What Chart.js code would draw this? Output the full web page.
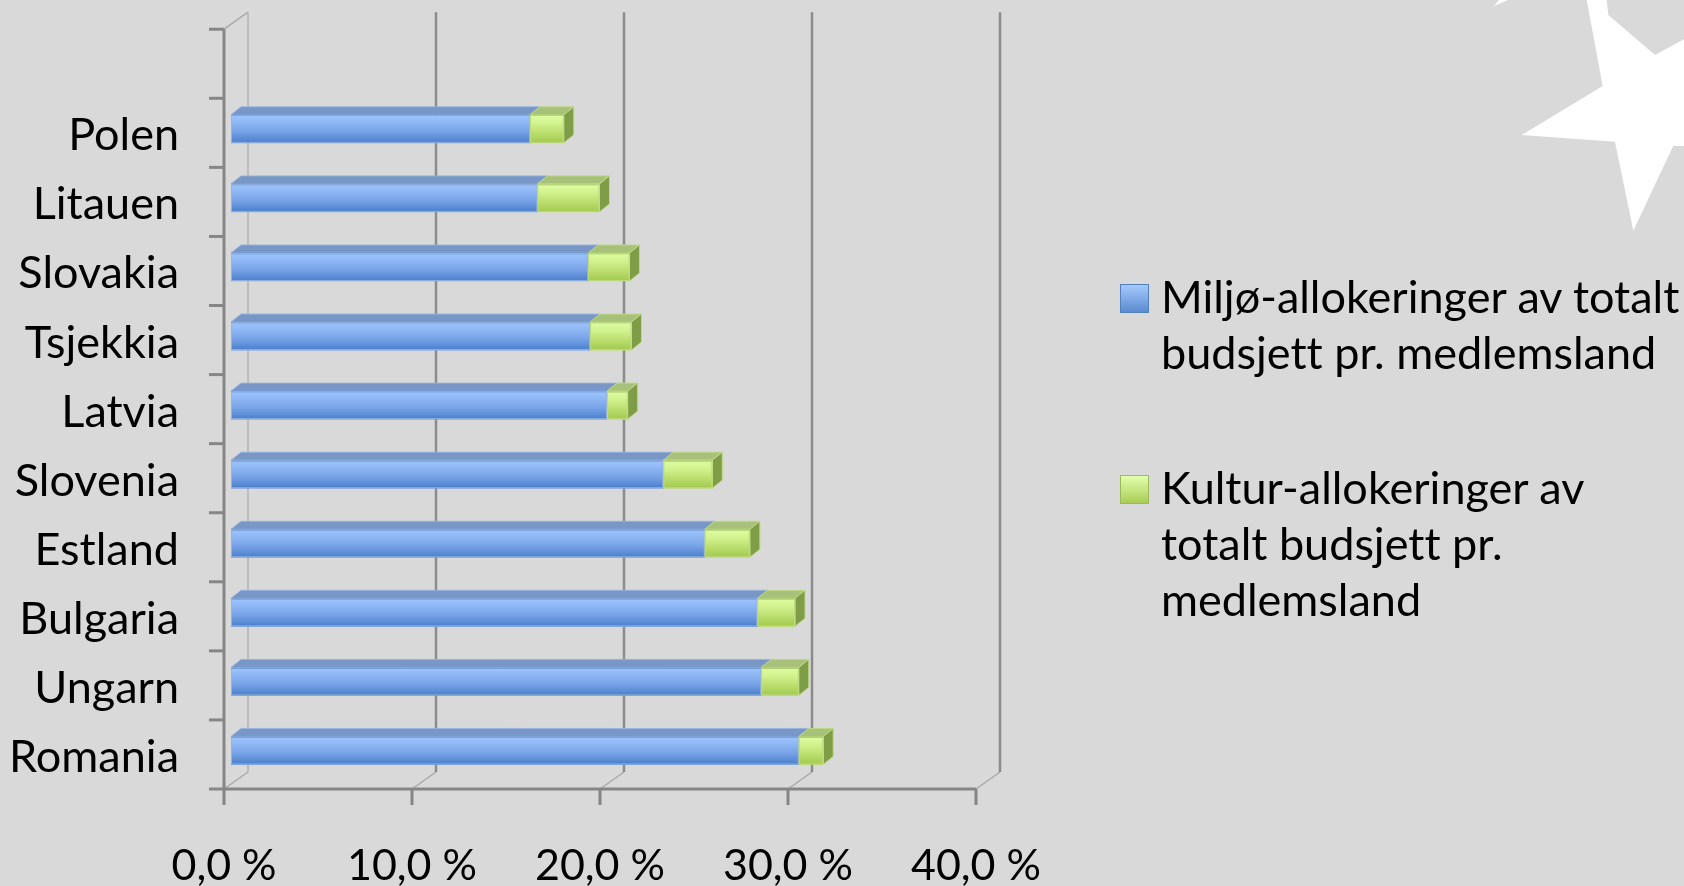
<!DOCTYPE html>
<html><head><meta charset="utf-8">
<script src="https://cdn.jsdelivr.net/npm/chart.js@4.4.1/dist/chart.umd.min.js"></script>
<style>
html,body{margin:0;padding:0;background:#d9d9d9;width:1684px;height:886px;overflow:hidden;}
#wrap{position:relative;width:1684px;height:886px;}
canvas{position:absolute;left:0;top:0;}
#legend{position:absolute;left:1120px;top:0;font-family:Lato,sans-serif;font-size:45px;line-height:56px;color:#000;font-variant-ligatures:none;font-feature-settings:"liga" 0;}
.item{position:absolute;left:0;white-space:nowrap;}
.sw{position:absolute;left:0;width:27px;height:27px;}
.txt{position:absolute;left:41px;top:0;}
</style></head><body>
<div id="wrap"><canvas id="c" width="1684" height="886"></canvas><div id="legend"></div></div>
<script>
// ---- data ----
const categories = ['Polen','Litauen','Slovakia','Tsjekkia','Latvia','Slovenia','Estland','Bulgaria','Ungarn','Romania'];
const miljo  = [15.9, 16.3, 19.0, 19.1, 20.0, 23.0, 25.2, 28.0, 28.2, 30.2];
const kultur = [1.8, 3.3, 2.2, 2.2, 1.1, 2.6, 2.4, 2.0, 2.0, 1.3];
const seriesNames = [
  ['Miljø-allokeringer av totalt','budsjett pr. medlemsland'],
  ['Kultur-allokeringer av','totalt budsjett pr.','medlemsland']
];
const xTickLabels = ['0,0 %','10,0 %','20,0 %','30,0 %','40,0 %'];

// ---- style ----
const FONT = 'Lato';
const WALL_DX = 24, WALL_DY = -17;
const BAR_SHIFT_X = 7, BAR_SHIFT_Y = -4;
const BAR_DX = 10, BAR_DY = 8;
const styles = [
  {front:[[0,'#9ec5ff'],[0.2,'#93bbf7'],[0.6,'#77a2e6'],[1,'#4a7fcb']], top:'#7896c6', edge:'#5b86c4', border:'rgba(150,180,222,0.9)', side:'#4a72b0',
   swatch:'linear-gradient(to bottom,#a6c9fd,#5b8bd0)', swBorder:'#4f81bd'},
  {front:[[0,'#dffea3'],[0.3,'#d2f28e'],[1,'#a3c94e']], top:'#a8c17a', edge:'#97b65c', border:'#bdd982', side:'#7f9d46',
   swatch:'linear-gradient(to bottom,#e2ffad,#a8cd55)', swBorder:'#9bbb59'}
];

function line(ctx,x1,y1,x2,y2){ctx.beginPath();ctx.moveTo(x1,y1);ctx.lineTo(x2,y2);ctx.stroke();}

const deco = {
  id:'deco',
  beforeDraw(chart){
    const ctx = chart.ctx;
    ctx.save();
    ctx.fillStyle = '#ffffff';
    ctx.beginPath();
    [[1586.7,0],[1602.7,86],[1521.7,135],[1615,141.7],[1633.3,230.7],[1673.3,145.7],[1684,146],[1684,39.3],[1655,55],[1608.3,15],[1606.7,0]]
      .forEach((p,i)=> i?ctx.lineTo(p[0],p[1]):ctx.moveTo(p[0],p[1]));
    ctx.closePath(); ctx.fill();
    ctx.beginPath(); ctx.moveTo(1494,6); ctx.lineTo(1508,0); ctx.lineTo(1499,0); ctx.closePath(); ctx.fill();
    ctx.restore();
  },
  beforeDatasetsDraw(chart){
    const {ctx, chartArea:a, scales:{x,y}} = chart;
    const n = categories.length;
    const band = (a.bottom - a.top)/n;
    const topF = a.top - band;
    const vals = x.ticks.map(t=>t.value);
    ctx.save();
    ctx.lineCap = 'butt';
    // floor / wall diagonals
    ctx.strokeStyle = '#a9a9a9'; ctx.lineWidth = 1.5;
    vals.forEach(v=>{const px=x.getPixelForValue(v); line(ctx,px,a.bottom,px+WALL_DX,a.bottom+WALL_DY);});
    line(ctx,a.left,topF,a.left+WALL_DX,topF+WALL_DY);
    // back gridlines
    vals.forEach((v,i)=>{
      const px = x.getPixelForValue(v)+WALL_DX;
      ctx.strokeStyle = i===0 ? '#b2b2b2' : '#8c8c8c';
      ctx.lineWidth = i===0 ? 1.5 : 2.5;
      line(ctx,px,topF+WALL_DY,px,a.bottom+WALL_DY);
    });
    // front axes
    ctx.strokeStyle = '#868686'; ctx.lineWidth = 3;
    line(ctx,a.left,topF,a.left,a.bottom+1.5);
    for(let k=0;k<=n+1;k++){const yy=topF+k*band; line(ctx,a.left-15,yy,a.left,yy);}
    line(ctx,a.left-1.5,a.bottom,a.right,a.bottom);
    vals.forEach(v=>{const px=x.getPixelForValue(v); line(ctx,px,a.bottom,px,a.bottom+16);});
    ctx.restore();

    // bars: 3d faces behind front faces
    ctx.save();
    ctx.translate(BAR_SHIFT_X, BAR_SHIFT_Y);
    const last = chart.data.datasets.length-1;
    chart.data.datasets.forEach((ds,i)=>{
      const st = styles[i];
      chart.getDatasetMeta(i).data.forEach(el=>{
        const p = el.getProps(['x','y','base','height'], true);
        const l = Math.min(p.x,p.base), r = Math.max(p.x,p.base), t = p.y-p.height/2, b = p.y+p.height/2;
        ctx.fillStyle = st.top;
        ctx.beginPath(); ctx.moveTo(l,t); ctx.lineTo(r,t); ctx.lineTo(r+BAR_DX,t-BAR_DY); ctx.lineTo(l+BAR_DX,t-BAR_DY); ctx.closePath(); ctx.fill();
        ctx.strokeStyle = st.border; ctx.lineWidth = 1; ctx.stroke();
        if(i===last){
          ctx.fillStyle = st.side;
          ctx.beginPath(); ctx.moveTo(r,t); ctx.lineTo(r+BAR_DX,t-BAR_DY); ctx.lineTo(r+BAR_DX,b-BAR_DY); ctx.lineTo(r,b); ctx.closePath(); ctx.fill();
          ctx.strokeStyle = st.border; ctx.stroke();
        }
      });
    });
  },
  afterDatasetsDraw(chart){
    const ctx = chart.ctx;
    chart.data.datasets.forEach((ds,i)=>{
      const st = styles[i];
      chart.getDatasetMeta(i).data.forEach(el=>{
        const p = el.getProps(['x','y','base','height'], true);
        const l = Math.min(p.x,p.base), r = Math.max(p.x,p.base), t = p.y-p.height/2, b = p.y+p.height/2;
        const g = ctx.createLinearGradient(0,t,0,b);
        st.front.forEach(s=>g.addColorStop(s[0],s[1]));
        ctx.fillStyle = g; ctx.fillRect(l,t,r-l,b-t);
        ctx.strokeStyle = st.edge; ctx.lineWidth = 1.5; line(ctx,l,t+0.5,r,t+0.5);
        ctx.strokeStyle = st.border; ctx.lineWidth = 1; ctx.strokeRect(l+0.5,t+0.5,r-l-1,b-t-1);
      });
    });
    ctx.restore();
  }
};

const chart = new Chart(document.getElementById('c'), {
  type:'bar',
  data:{
    labels: categories,
    datasets:[
      {label: seriesNames[0].join(' '), data: miljo, backgroundColor:'#77a2e6', barThickness:28},
      {label: seriesNames[1].join(' '), data: kultur, backgroundColor:'#c4e47a', barThickness:28}
    ]
  },
  options:{
    indexAxis:'y',
    responsive:false,
    animation:false,
    devicePixelRatio:1,
    layout:{padding:{top:98.3, right:708, bottom:0, left:0}},
    plugins:{legend:{display:false}, tooltip:{enabled:false}},
    scales:{
      x:{
        stacked:true, min:0, max:40,
        ticks:{stepSize:10, color:'#000', padding:51, font:{family:FONT,size:43},
               callback:(v,i)=>xTickLabels[i]},
        grid:{display:false, drawTicks:false}, border:{display:false},
        afterFit:(s)=>{s.height = 97;}
      },
      y:{
        stacked:true,
        ticks:{color:'#000', padding:45, labelOffset:3, font:{family:FONT,size:45}},
        grid:{display:false, drawTicks:false}, border:{display:false},
        afterFit:(s)=>{s.width = 224;}
      }
    }
  },
  plugins:[deco]
});

// HTML legend built from the datasets
const legend = document.getElementById('legend');
const tops = [267.5, 458.6];
chart.data.datasets.forEach((ds,i)=>{
  const item = document.createElement('div');
  item.className='item'; item.style.top = tops[i]+'px';
  const sw = document.createElement('div');
  sw.className='sw'; sw.style.top='16px'; sw.style.background=styles[i].swatch; sw.style.border='1px solid '+styles[i].swBorder;
  const tx = document.createElement('div');
  tx.className='txt';
  seriesNames[i].forEach((ln,k)=>{ if(k) tx.appendChild(document.createElement('br')); tx.appendChild(document.createTextNode(ln)); });
  item.appendChild(sw); item.appendChild(tx);
  legend.appendChild(item);
});
</script>
</body></html>
